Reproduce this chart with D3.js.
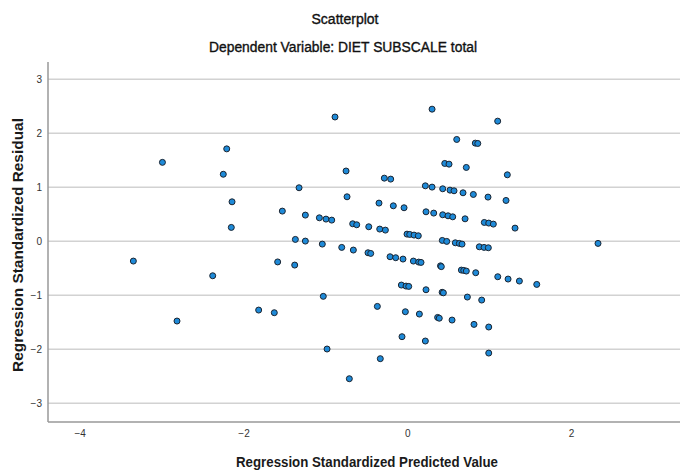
<!DOCTYPE html>
<html><head><meta charset="utf-8">
<script src="https://cdn.jsdelivr.net/npm/d3@7"></script>
<style>body{margin:0;background:#fff}svg{display:block}</style>
</head><body>
<svg id="chart" width="680" height="472"></svg>
<script>
const title = "Scatterplot";
const subtitle = "Dependent Variable: DIET SUBSCALE total";
const xLabel = "Regression Standardized Predicted Value";
const yLabel = "Regression Standardized Residual";
const xTicks = [-4, -2, 0, 2];
const yTicks = [-3, -2, -1, 0, 1, 2, 3];
const predicted = [-2.99,-2.205,-2.247,-2.14,-2.149,-1.526,-3.345,-2.376,-2.812,-1.815,-1.624,-1.583,
 -0.883,0.302,-0.748,-1.322,-0.281,-0.203,-0.736,0.22,0.302,0.432,0.521,0.57,0.457,0.509,
 -1.245,-1.074,-0.993,-0.923,-0.346,-0.171,-0.04,0.228,0.322,0.432,0.497,0.554,
 -0.667,-0.618,-0.471,-0.337,-0.268,-0.004,0.029,0.082,0.134,-1.367,-1.245,-1.038,-0.801,-0.659,0.427,0.481,
 -0.48,-0.447,-1.375,-0.211,-0.142,-0.053,0.074,0.139,0.167,0.405,0.415,
 -0.073,-0.016,0.017,0.228,0.425,0.44,-1.026,-0.366,-0.024,0.147,0.37,0.39,0.546,
 -0.065,0.22,-0.98,-0.33,-0.708,
 1.103,0.603,0.83,0.86,0.72,1.221,0.68,0.806,0.985,1.205,0.705,0.94,0.994,1.05,1.315,
 0.586,0.635,0.668,0.879,0.937,0.989,2.328,0.66,0.689,0.72,0.835,1.104,1.23,1.368,1.58,
 0.733,0.908,0.814,0.994,0.994];
const residual = [1.46,1.71,1.24,0.73,0.256,0.558,-0.367,-0.639,-1.477,-1.274,-1.323,-0.383,
 2.30,2.445,1.30,0.99,1.168,1.15,0.823,1.026,1.002,0.971,0.946,0.934,1.44,1.427,
 0.484,0.434,0.41,0.391,0.706,0.656,0.62,0.545,0.521,0.49,0.471,0.452,
 0.323,0.305,0.268,0.225,0.206,0.132,0.126,0.114,0.101,0.034,0.003,-0.053,-0.114,-0.163,0.015,-0.003,
 -0.213,-0.226,-0.441,-0.287,-0.305,-0.33,-0.367,-0.386,-0.392,-0.455,-0.47,
 -0.811,-0.83,-0.836,-0.898,-0.945,-0.955,-1.02,-1.206,-1.305,-1.348,-1.41,-1.425,-1.459,
 -1.767,-1.847,-1.995,-2.174,-2.545,
 2.223,1.884,1.816,1.81,1.366,1.23,0.897,0.866,0.817,0.755,0.415,0.348,0.336,0.317,0.243,
 -0.029,-0.04,-0.053,-0.103,-0.114,-0.121,-0.04,-0.534,-0.54,-0.552,-0.583,-0.657,-0.7,-0.737,-0.799,
 -1.033,-1.089,-1.539,-1.588,-2.07];

const svg = d3.select("#chart");
const L = 48, R = 680, T = 62, B = 422;
const x = d3.scaleLinear().domain([-4.387, 3.329]).range([L, R]);
const y = d3.scaleLinear().domain([-3.346, 3.318]).range([B, T]);
const font = "'Liberation Sans', Arial, sans-serif";

// titles
svg.append("text").attr("x", 345).attr("y", 24).attr("text-anchor", "middle")
  .attr("font-family", font).attr("font-size", 14).attr("fill", "#111")
  .attr("stroke", "#111").attr("stroke-width", 0.35)
  .attr("textLength", 67).attr("lengthAdjust", "spacingAndGlyphs").text(title);
svg.append("text").attr("x", 343).attr("y", 52).attr("text-anchor", "middle")
  .attr("font-family", font).attr("font-size", 14).attr("fill", "#111")
  .attr("stroke", "#111").attr("stroke-width", 0.35)
  .attr("textLength", 268).attr("lengthAdjust", "spacingAndGlyphs").text(subtitle);

// gridlines
svg.append("g").selectAll("line").data(yTicks).join("line")
  .attr("x1", L).attr("x2", R).attr("y1", d => y(d)).attr("y2", d => y(d))
  .attr("stroke", "#d2d2d2").attr("stroke-width", 1.5);

// axes
const yAxis = d3.axisLeft(y).tickValues(yTicks).tickSize(0).tickPadding(6).tickFormat(d3.format("d"));
const gy = svg.append("g").attr("transform", `translate(${L},0)`).call(yAxis);
const xAxis = d3.axisBottom(x).tickValues(xTicks).tickSize(0).tickPadding(8).tickFormat(d3.format("d"));
const gx = svg.append("g").attr("transform", `translate(0,${B})`).call(xAxis);
[gx, gy].forEach(g => {
  g.select(".domain").remove();
  g.selectAll("text").attr("font-family", font).attr("font-size", 10).attr("fill", "#333");
});
svg.append("line").attr("x1", L).attr("x2", L).attr("y1", T).attr("y2", B)
  .attr("stroke", "#999").attr("stroke-width", 1.5);
svg.append("line").attr("x1", L).attr("x2", R).attr("y1", B).attr("y2", B)
  .attr("stroke", "#999").attr("stroke-width", 1.5);

// axis titles
svg.append("text").attr("x", 367).attr("y", 467).attr("text-anchor", "middle")
  .attr("font-family", font).attr("font-size", 14).attr("font-weight", "bold").attr("fill", "#1a1a1a")
  .attr("textLength", 262).attr("lengthAdjust", "spacingAndGlyphs").text(xLabel);
svg.append("text").attr("transform", "translate(23,245) rotate(-90)").attr("text-anchor", "middle")
  .attr("font-family", font).attr("font-size", 14).attr("font-weight", "bold").attr("fill", "#1a1a1a")
  .attr("textLength", 254).attr("lengthAdjust", "spacingAndGlyphs").text(yLabel);

// points
svg.append("g").selectAll("circle").data(predicted.map((p, i) => [p, residual[i]])).join("circle")
  .attr("cx", d => x(d[0])).attr("cy", d => y(d[1])).attr("r", 3)
  .attr("fill", "#1e8ad8").attr("stroke", "#1b2430").attr("stroke-width", 1);
</script>
</body></html>
